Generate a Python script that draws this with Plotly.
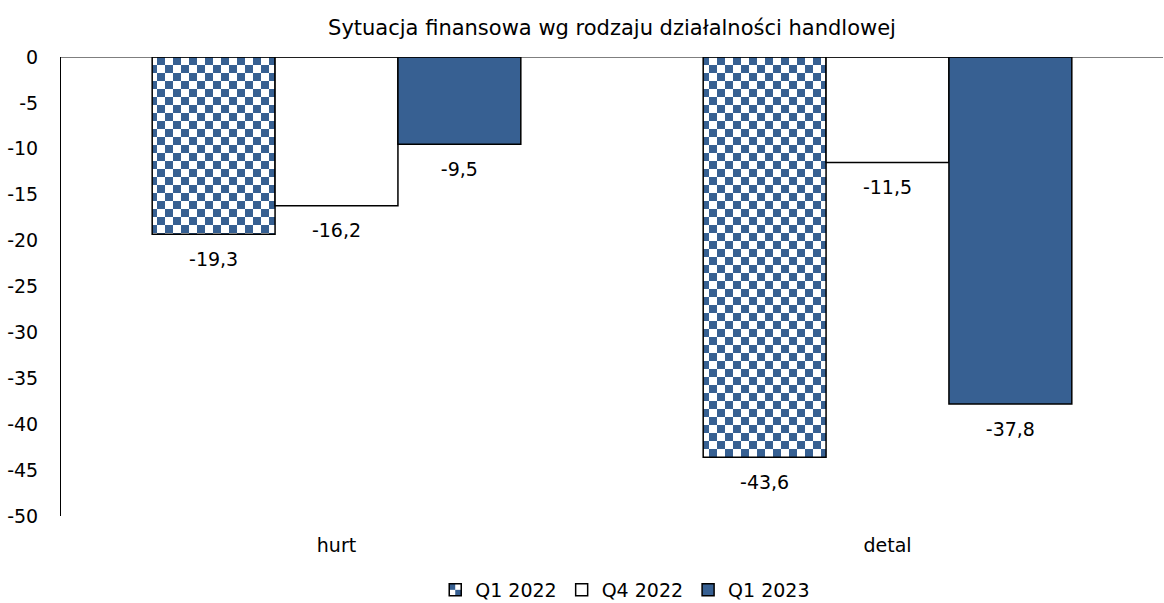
import plotly.graph_objects as go

categories = ["hurt", "detal"]
series_names = ["Q1 2022", "Q4 2022", "Q1 2023"]
q1_2022 = [-19.3, -43.6]
q4_2022 = [-16.2, -11.5]
q1_2023 = [-9.5, -37.8]
y_ticks = [0, -5, -10, -15, -20, -25, -30, -35, -40, -45, -50]

BLUE = "#376092"
FONT = "DejaVu Sans, sans-serif"
FS = 19

def pl(v):
    return f"{v:.1f}".replace(".", ",")

fig = go.Figure()

styles = [
    dict(color="white", pattern=dict(shape=".", fgcolor=BLUE, bgcolor="white", size=8, solidity=0.6)),
    dict(color="white"),
    dict(color=BLUE),
]
for name, vals, st in zip(series_names, [q1_2022, q4_2022, q1_2023], styles):
    fig.add_trace(go.Bar(
        x=categories, y=vals, name=name,
        marker=dict(line=dict(color="black", width=1.5), **st),
        hoverinfo="skip",
    ))

# value labels below each bar, grouped like the bars
for name, vals in zip(series_names, [q1_2022, q4_2022, q1_2023]):
    fig.add_trace(go.Scatter(
        x=categories, y=vals, mode="markers+text",
        text=[pl(v) for v in vals], textposition="bottom center",
        textfont=dict(family=FONT, size=FS, color="black"),
        marker=dict(size=26, opacity=0),
        showlegend=False, hoverinfo="skip", cliponaxis=False,
    ))

fig.update_layout(
    width=1164, height=603,
    margin=dict(l=61, r=1, t=57, b=87, autoexpand=False),
    paper_bgcolor="white", plot_bgcolor="white",
    barmode="group", bargap=0.331, bargroupgap=0,
    scattermode="group", scattergap=0.331,
    font=dict(family=FONT, size=FS, color="black"),
    title=dict(text="Sytuacja finansowa wg rodzaju działalności handlowej",
               x=0.5, xref="paper", y=1 - 28 / 603, yref="container",
               yanchor="middle", xanchor="center",
               font=dict(family=FONT, size=21, color="black")),
    showlegend=True,
    legend=dict(orientation="h", x=0.512, xanchor="center",
                y=1 - 590 / 603, yref="container", yanchor="middle",
                font=dict(family=FONT, size=FS), traceorder="normal"),
    xaxis=dict(showline=False, showgrid=False, zeroline=False, ticks="",
               ticklabelstandoff=16, fixedrange=True),
    yaxis=dict(range=[-50, 0], tickvals=y_ticks, ticktext=[str(t) for t in y_ticks],
               showline=True, linecolor="black", linewidth=1, showgrid=False,
               zeroline=False, ticks="", ticklabelstandoff=18, fixedrange=True),
    shapes=[dict(type="line", xref="paper", yref="y", x0=0, x1=1, y0=0, y1=0,
                 line=dict(color="black", width=1))],
)

checker_js = """
var gd = document.getElementById('{plot_id}');
function applyChecker() {
  var ns = 'http://www.w3.org/2000/svg';
  var svg = gd.querySelector('.main-svg');
  var defs = svg.querySelector('defs');
  if (!document.getElementById('chk')) {
    var p = document.createElementNS(ns, 'pattern');
    p.setAttribute('id', 'chk');
    p.setAttribute('patternUnits', 'userSpaceOnUse');
    p.setAttribute('width', '16');
    p.setAttribute('height', '16');
    var cells = [[0, 0, 16, 16, 'white'], [0, 0, 8, 8, '%s'], [8, 8, 8, 8, '%s']];
    cells.forEach(function (c) {
      var r = document.createElementNS(ns, 'rect');
      r.setAttribute('x', c[0]); r.setAttribute('y', c[1]);
      r.setAttribute('width', c[2]); r.setAttribute('height', c[3]);
      r.setAttribute('fill', c[4]);
      p.appendChild(r);
    });
    defs.appendChild(p);
  }
  var bars = gd.querySelectorAll('.barlayer .trace.bars');
  if (bars.length) {
    bars[0].querySelectorAll('.point path').forEach(function (el) {
      el.style.fill = 'url(#chk)';
    });
  }
  var leg = gd.querySelectorAll('.legend .traces');
  if (leg.length) {
    leg[0].querySelectorAll('.legendpoints path').forEach(function (el) {
      el.style.fill = 'url(#chk)';
    });
  }
}
applyChecker();
gd.on('plotly_afterplot', applyChecker);
""" % (BLUE, BLUE)

fig.write_html("out.html", post_script=checker_js)
